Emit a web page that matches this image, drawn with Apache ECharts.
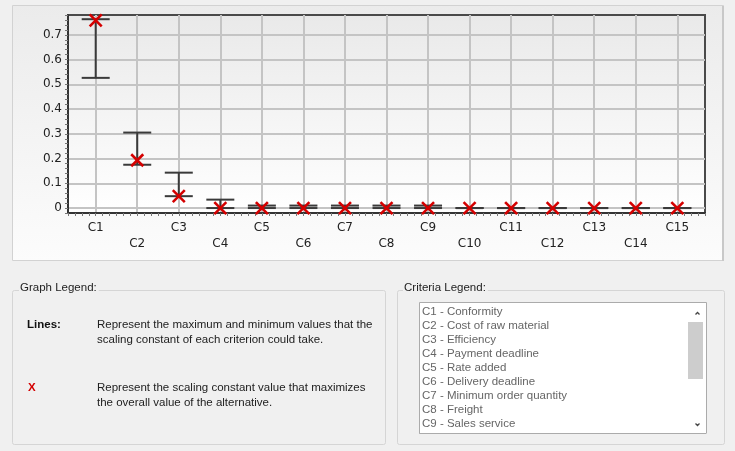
<!DOCTYPE html>
<html>
<head>
<meta charset="utf-8">
<script src="https://cdn.jsdelivr.net/npm/echarts@6/dist/echarts.min.js"></script>
<style>
html,body{margin:0;padding:0;background:#f0f0f0;}
#chart{width:735px;height:451px;}
</style>
</head>
<body>
<div id="chart"></div>
<script>
// ---- data ----
var categories = ['C1','C2','C3','C4','C5','C6','C7','C8','C9','C10','C11','C12','C13','C14','C15'];
var maxValues = [0.763, 0.305, 0.143, 0.034, 0.01, 0.01, 0.01, 0.01, 0.01, 0, 0, 0, 0, 0, 0];
var minValues = [0.526, 0.175, 0.048, 0, 0, 0, 0, 0, 0, 0, 0, 0, 0, 0, 0];
var optimalValues = [0.758, 0.193, 0.048, 0, 0, 0, 0, 0, 0, 0, 0, 0, 0, 0, 0];
var yTickLabels = ['0', '0.1', '0.2', '0.3', '0.4', '0.5', '0.6', '0.7'];
var criteriaNames = ['C1 - Conformity','C2 - Cost of raw material','C3 - Efficiency','C4 - Payment deadline',
  'C5 - Rate added','C6 - Delivery deadline','C7 - Minimum order quantity','C8 - Freight',
  'C9 - Sales service','C10 - Information sharing'];
var legendLines = ['Represent the maximum and minimum values that the', 'scaling constant of each criterion could take.'];
var legendX = ['Represent the scaling constant value that maximizes', 'the overall value of the alternative.'];

var rangeData = categories.map(function (c, i) { return [i + 1, minValues[i], maxValues[i]]; });
var optData = categories.map(function (c, i) { return [i + 1, optimalValues[i]]; });

var T = 'rgba(0,0,0,0)', G = '#c4c4c4';
var FONT = '"Liberation Sans", Arial, sans-serif';
var FS = 11.5;

var chart = echarts.init(document.getElementById('chart'), null, {renderer: 'canvas'});

var graphics = [];
// chart panel
graphics.push({type: 'rect', z: -10, shape: {x: 12.5, y: 5.5, width: 711, height: 255},
  style: {fill: new echarts.graphic.LinearGradient(0, 0, 0, 1, [{offset: 0, color: '#ebebeb'}, {offset: 1, color: '#fcfcfc'}]),
    stroke: '#d2d2d2', lineWidth: 1}});
graphics.push({type: 'rect', z: -9, shape: {x: 722, y: 6, width: 2, height: 255}, style: {fill: '#c8c8c8'}});
// group boxes
graphics.push({type: 'rect', z: -10, shape: {x: 12.5, y: 290.5, width: 373, height: 154, r: 2},
  style: {fill: '#f0f0f0', stroke: '#d5d5d5', lineWidth: 1}});
graphics.push({type: 'rect', z: -10, shape: {x: 397.5, y: 290.5, width: 327, height: 154, r: 2},
  style: {fill: '#f0f0f0', stroke: '#d5d5d5', lineWidth: 1}});
graphics.push({type: 'text', z: 5, style: {text: 'Graph Legend:', x: 19, y: 288, fill: '#222', fontSize: FS, fontFamily: FONT,
  verticalAlign: 'middle', backgroundColor: '#f0f0f0', padding: [0, 2, 0, 1]}});
graphics.push({type: 'text', z: 5, style: {text: 'Criteria Legend:', x: 403, y: 288, fill: '#222', fontSize: FS, fontFamily: FONT,
  verticalAlign: 'middle', backgroundColor: '#f0f0f0', padding: [0, 2, 0, 1]}});
// graph legend content
graphics.push({type: 'text', z: 5, style: {text: 'Lines:', x: 27, y: 325, fill: '#111', fontSize: FS, fontWeight: 'bold', fontFamily: FONT, verticalAlign: 'middle'}});
legendLines.forEach(function (t, i) {
  graphics.push({type: 'text', z: 5, style: {text: t, x: 97, y: 325 + i * 15, fill: '#222', fontSize: FS, fontFamily: FONT, verticalAlign: 'middle'}});
});
graphics.push({type: 'text', z: 5, style: {text: 'X', x: 28, y: 388, fill: '#d40000', fontSize: FS, fontWeight: 'bold', fontFamily: FONT, verticalAlign: 'middle'}});
legendX.forEach(function (t, i) {
  graphics.push({type: 'text', z: 5, style: {text: t, x: 97, y: 388 + i * 15, fill: '#222', fontSize: FS, fontFamily: FONT, verticalAlign: 'middle'}});
});
// list box
graphics.push({type: 'rect', z: 1, shape: {x: 419.5, y: 302.5, width: 287, height: 131}, style: {fill: '#ffffff', stroke: '#ababab', lineWidth: 1}});
criteriaNames.forEach(function (t, i) {
  graphics.push({type: 'text', z: 2, style: {text: t, x: 422, y: 312 + i * 14, fill: '#666', fontSize: FS, fontFamily: FONT, verticalAlign: 'middle'}});
});
// cover the clipped part of the last item
graphics.push({type: 'rect', z: 3, shape: {x: 420, y: 433, width: 287, height: 10}, style: {fill: '#f0f0f0'}});
graphics.push({type: 'line', z: 4, shape: {x1: 419.5, y1: 433.5, x2: 706.5, y2: 433.5}, style: {stroke: '#ababab', lineWidth: 1}});
// scrollbar
graphics.push({type: 'rect', z: 3, shape: {x: 687, y: 303, width: 19, height: 130}, style: {fill: '#ffffff'}});
graphics.push({type: 'rect', z: 4, shape: {x: 688, y: 322, width: 15, height: 57}, style: {fill: '#cdcdcd'}});
graphics.push({type: 'polyline', z: 4, shape: {points: [[695.5, 314.5], [697.5, 312.5], [699.5, 314.5]]}, style: {stroke: '#444', lineWidth: 1.3, fill: null}});
graphics.push({type: 'polyline', z: 4, shape: {points: [[695.5, 423.5], [697.5, 425.5], [699.5, 423.5]]}, style: {stroke: '#444', lineWidth: 1.3, fill: null}});

var option = {
  animation: false,
  backgroundColor: '#f0f0f0',
  textStyle: {fontFamily: '"DejaVu Sans", sans-serif'},
  graphic: {elements: graphics},
  grid: {
    left: 68, right: 30, top: 15, bottom: 238,
    show: true, borderColor: '#4a4a4a', borderWidth: 2,
    backgroundColor: new echarts.graphic.LinearGradient(0, 0, 0, 1, [{offset: 0, color: '#e9e9e9'}, {offset: 1, color: '#ffffff'}])
  },
  xAxis: {
    type: 'value', min: 2 / 6, max: 94 / 6, interval: 1 / 6,
    axisLine: {show: true, onZero: false, lineStyle: {color: '#333', width: 2}},
    axisTick: {show: true, length: 3, lineStyle: {color: '#777'}},
    splitLine: {show: true, lineStyle: {color: [T, T, T, T, G, T], width: 2}},
    axisLabel: {
      margin: 7, color: '#222', fontSize: 12, lineHeight: 16,
      formatter: function (v) {
        var r = Math.round(v);
        if (Math.abs(v - r) > 1e-6 || r < 1 || r > categories.length) return '';
        return (r % 2 === 0 ? '\n' : '') + categories[r - 1];
      }
    }
  },
  yAxis: {
    type: 'value', min: -0.02, max: 0.78, interval: 0.02,
    axisLine: {show: true, lineStyle: {color: '#333', width: 2}},
    axisTick: {show: true, length: 3, lineStyle: {color: '#777'}},
    splitLine: {show: true, lineStyle: {color: [T, G, T, T, T], width: 2}},
    axisLabel: {
      margin: 6, color: '#222', fontSize: 12,
      formatter: function (v) {
        var k = Math.round(v * 10);
        if (Math.abs(v * 10 - k) > 1e-6 || k < 0 || k >= yTickLabels.length) return '';
        return yTickLabels[k];
      }
    }
  },
  series: [
    {
      type: 'custom',
      data: rangeData,
      z: 3,
      renderItem: function (params, api) {
        var x = api.value(0);
        var lo = api.coord([x, api.value(1)]);
        var hi = api.coord([x, api.value(2)]);
        var hw = 14;
        var st = {stroke: '#3a3a3a', lineWidth: 2};
        return {
          type: 'group',
          children: [
            {type: 'line', shape: {x1: lo[0], y1: lo[1], x2: hi[0], y2: hi[1]}, style: st},
            {type: 'line', shape: {x1: hi[0] - hw, y1: hi[1], x2: hi[0] + hw, y2: hi[1]}, style: st},
            {type: 'line', shape: {x1: lo[0] - hw, y1: lo[1], x2: lo[0] + hw, y2: lo[1]}, style: st}
          ]
        };
      }
    },
    {
      type: 'custom',
      data: optData,
      z: 4,
      renderItem: function (params, api) {
        var p = api.coord([api.value(0), api.value(1)]);
        var s = 6;
        var st = {stroke: '#d40000', lineWidth: 2.6};
        return {
          type: 'group',
          children: [
            {type: 'line', shape: {x1: p[0] - s, y1: p[1] - s, x2: p[0] + s, y2: p[1] + s}, style: st},
            {type: 'line', shape: {x1: p[0] - s, y1: p[1] + s, x2: p[0] + s, y2: p[1] - s}, style: st}
          ]
        };
      }
    }
  ]
};
chart.setOption(option);
</script>
</body>
</html>
